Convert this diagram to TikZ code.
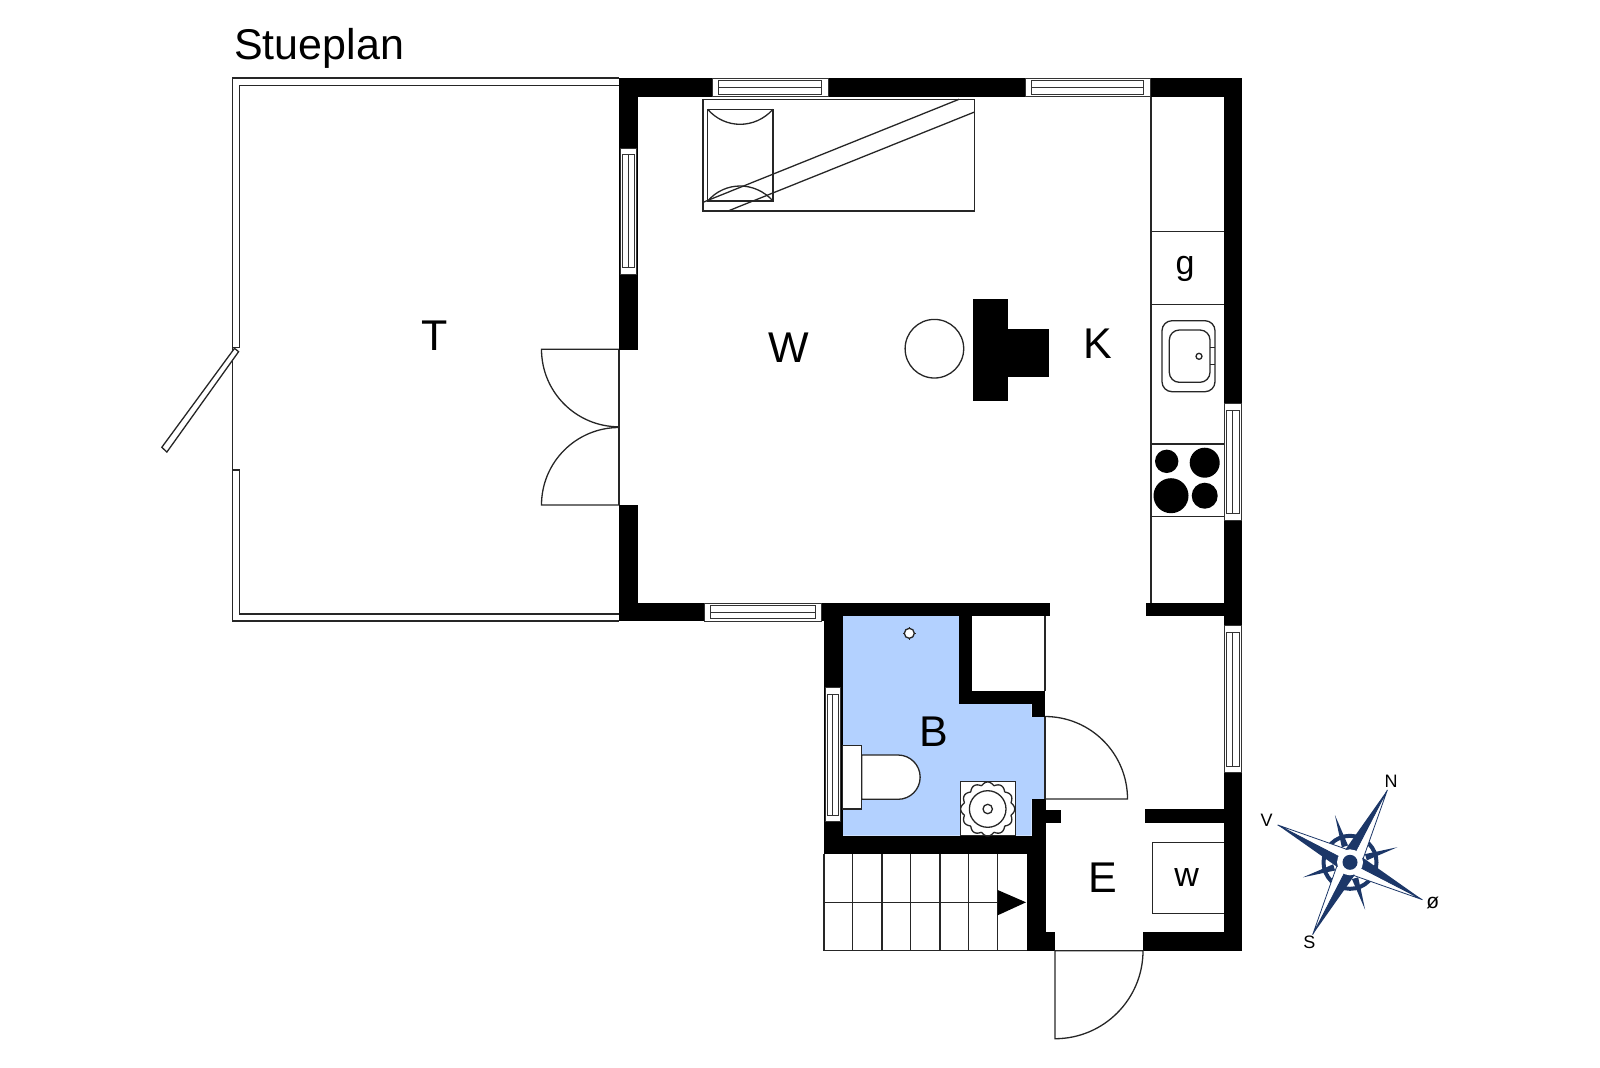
\documentclass[tikz,border=0pt]{standalone}
\usepackage{fontspec}
\setmainfont{Liberation Sans}
\definecolor{bathblue}{HTML}{B3D1FF}
\definecolor{compassblue}{HTML}{1C3768}
\newcommand{\vwindow}[4]{
	\draw[window line,fill=white] (#1,#3) rectangle (#2,#4);
	\draw[window line] ({#1+2.7},{#3+6.7}) rectangle ({#2-2.7},{#4-6.7});
	\draw[window line] ({(#1+#2)/2},{#3+6.7}) -- ({(#1+#2)/2},{#4-6.7});
}
\newcommand{\hwindow}[4]{
	\draw[window line,fill=white] (#1,#3) rectangle (#2,#4);
	\draw[window line] ({#1+6.7},{#3+2.7}) rectangle ({#2-6.7},{#4-2.7});
	\draw[window line] ({#1+6.7},{(#3+#4)/2}) -- ({#2-6.7},{(#3+#4)/2});
}
\tikzset{
	plan line/.style={line width=0.65pt,draw=black!85},
	window line/.style={line width=0.45pt,draw=black!80},
	wall/.style={fill=black},
	room label/.style={font=\fontsize{21.5}{24}\selectfont,anchor=base,inner sep=0pt},
	small label/.style={font=\fontsize{17}{20}\selectfont,anchor=base,inner sep=0pt},
	compass label/.style={font=\fontsize{9}{10}\selectfont,inner sep=0pt}
}
\begin{document}
\begin{tikzpicture}[x=0.5pt,y=-0.5pt]
	\useasboundingbox (0,0) rectangle (1600,1067);

	\fill[bathblue] (842.7,616) -- (959.3,616) -- (959.3,704) -- (1031.7,704) -- (1031.7,717) -- (1045,717) -- (1045,799.3) -- (1031.7,799.3) -- (1031.7,835.7) -- (842.7,835.7) -- cycle;

	\draw[plan line] (232.8,347.3) -- (232.8,78) -- (619,78);
	\draw[plan line] (232.8,347.3) -- (239.6,347.3) -- (239.6,85.3) -- (619,85.3);
	\draw[plan line] (232.8,347.3) -- (232.8,621) -- (619,621);
	\draw[plan line] (232.8,470) -- (239.6,470) -- (239.6,614) -- (619,614);
	\draw[plan line,fill=white] (234.5,348.3) -- (238.6,351.7) -- (166.9,452) -- (161.8,447.3) -- cycle;

	\fill[wall] (619,78) rectangle (1242.3,96.7);
	\fill[wall] (619,78) rectangle (637.8,350);
	\fill[wall] (619,505) rectangle (637.8,621);
	\fill[wall] (619,602.7) rectangle (840,621);
	\fill[wall] (1224,78) rectangle (1242.3,950.7);
	\fill[wall] (824,602.7) rectangle (1050,616);
	\fill[wall] (824,602.7) rectangle (842.7,854.3);
	\fill[wall] (824,835.7) rectangle (1045.7,854.3);
	\fill[wall] (959.3,610) rectangle (972,704);
	\fill[wall] (959.3,691) rectangle (1045,704);
	\fill[wall] (1031.7,691) rectangle (1045,717.3);
	\fill[wall] (1031.7,799.3) rectangle (1045.7,854.3);
	\fill[wall] (1026.7,835.7) rectangle (1045.7,950.7);
	\fill[wall] (1026.7,932.3) rectangle (1055,950.7);
	\fill[wall] (1040,810) rectangle (1060.7,822.5);
	\fill[wall] (1146,602.7) rectangle (1230,615.7);
	\fill[wall] (1145,809.3) rectangle (1230,822.7);
	\fill[wall] (1142.7,932.3) rectangle (1242.3,950.7);

	\hwindow{712}{828}{78}{96.7}
	\hwindow{1025}{1150.6}{78}{96.7}
	\hwindow{704}{821.7}{603}{621}
	\vwindow{620}{636.8}{148}{274}
	\vwindow{825}{840.7}{687.3}{821.7}
	\vwindow{1224}{1241.7}{403.3}{520}
	\vwindow{1224}{1241.7}{625.7}{772.7}

	\draw[plan line] (619,350) -- (619,505);
	\draw[plan line] (619,349.3) -- (541.5,349.3) arc[start angle=180,end angle=90,radius=77.5];
	\draw[plan line] (619,505) -- (541.5,505) arc[start angle=180,end angle=270,radius=77.5];
	\draw[plan line] (1045,616) -- (1045,691);
	\draw[plan line] (1045,717) -- (1045,799);
	\draw[plan line] (1045,799) -- (1127.5,799) arc[start angle=0,end angle=-90,radius=82.5];
	\draw[plan line] (1055,950.7) -- (1143,950.7) arc[start angle=0,end angle=90,radius=88] -- cycle;

	\draw[plan line] (703,99.3) rectangle (974.5,211);
	\draw[plan line] (959,99.3) -- (703,202.3);
	\draw[plan line] (974.5,112) -- (728,211);
	\draw[plan line] (707.7,109.3) rectangle (773,201);
	\draw[plan line] (707.7,109.3) .. controls (725,129.3) and (755,129.3) .. (773,109.3);
	\draw[plan line] (707.7,201) .. controls (725,181) and (755,181) .. (773,201);

	\draw[plan line] (934.4,348.7) circle (29.3);
	\fill[wall] (973.4,299) rectangle (1008,401);
	\fill[wall] (1000,329.3) rectangle (1049,376.7);

	\draw[plan line] (1151,96.7) -- (1151,602.7);
	\draw[plan line] (1151,231.7) -- (1224,231.7);
	\draw[plan line] (1151,304.3) -- (1224,304.3);
	\draw[plan line] (1151,444) -- (1224,444);
	\draw[plan line] (1151,516.7) -- (1224,516.7);
	\draw[plan line,rounded corners=5pt] (1162,320.7) rectangle (1215,391.7);
	\draw[plan line,rounded corners=5pt] (1169.3,330) rectangle (1210,382.3);
	\draw[plan line] (1210,347.7) -- (1215,347.7);
	\draw[plan line] (1210,364.3) -- (1215,364.3);
	\draw[plan line] (1199,356.3) circle (3);
	\fill[wall] (1166.7,461.3) circle (11.7);
	\fill[wall] (1204.7,462.7) circle (15);
	\fill[wall] (1171,495.7) circle (17.5);
	\fill[wall] (1204.7,495.7) circle (13);

	\draw[plan line,fill=white] (909.3,633.3) circle (5);
	\foreach \ang in {0,90,180,270}
		\draw[plan line] (909.3,633.3) ++(\ang:5) -- ++(\ang:1.8);
	\draw[plan line,fill=white] (842.7,745.7) rectangle (861.7,809);
	\draw[plan line,fill=white] (861.7,755) -- (898,755) arc[start angle=-90,end angle=90,radius=22.15] -- (861.7,799.3) -- cycle;
	\draw[plan line,fill=white] (960.7,781.3) rectangle (1015.3,835.7);
	\draw[plan line] plot[domain=0:360,samples=181] ({987.7+(24+3*abs(cos(6*\x)))*cos(\x)},{809+(24+3*abs(cos(6*\x)))*sin(\x)}) -- cycle;
	\draw[plan line] (987.7,809) circle (18.3);
	\draw[plan line] (987.7,809) circle (4.7);

	\foreach \stairx in {824,852.7,882,910.7,940,968.7,997.7}
		\draw[plan line] (\stairx,854.3) -- (\stairx,950.7);
	\draw[plan line] (824,950.7) -- (1026.7,950.7);
	\draw[plan line] (824,902.3) -- (997.7,902.3);
	\fill[wall] (997.7,890) -- (1026,902.3) -- (997.7,915.3) -- cycle;
	\draw[plan line] (1224,842.7) -- (1152.3,842.7) -- (1152.3,913.3) -- (1224,913.3);

	\node[room label,anchor=base west] (title) at (233.8,59.3) {Stueplan};
	\node[room label] (terrace) at (435,350.7) {T};
	\node[room label] (living) at (788.4,362.7) {W};
	\node[room label] (kitchen) at (1098,358.3) {K};
	\node[room label] (bath) at (934.3,746) {B};
	\node[room label] (entry) at (1103.3,892.3) {E};
	\node[small label] (fridge) at (1185,274) {g};
	\node[small label] (washer) at (1186.7,886) {w};

	\begin{scope}[shift={(1350,862.3)}]
		\draw[compassblue,line width=2pt] (0,0) circle (26.5);
		\foreach \ang in {-62.7,27.3,117.3,207.3} {
			\fill[compassblue] ({\ang+45-11}:17) -- ({\ang+45}:49.6) -- ({\ang+45+11}:17) -- cycle;
		}
		\foreach \ang in {-62.7,27.3,117.3,207.3} {
			\draw[compassblue,fill=white,line width=0.4pt] (0,0) -- (\ang:81.5) -- ({\ang+45}:14) -- cycle;
			\fill[compassblue] (0,0) -- (\ang:81.5) -- ({\ang-45}:14) -- cycle;
		}
		\fill[white] (0,0) circle (13);
		\fill[compassblue] (0,0) circle (7.5);
	\end{scope}
	\node[compass label] (north) at (1391,781.7) {N};
	\node[compass label] (west) at (1266.7,820) {V};
	\node[compass label,font=\fontsize{10.5}{10}\selectfont] (east) at (1432.7,902.7) {ø};
	\node[compass label] (south) at (1309.3,942.3) {S};
\end{tikzpicture}
\end{document}
